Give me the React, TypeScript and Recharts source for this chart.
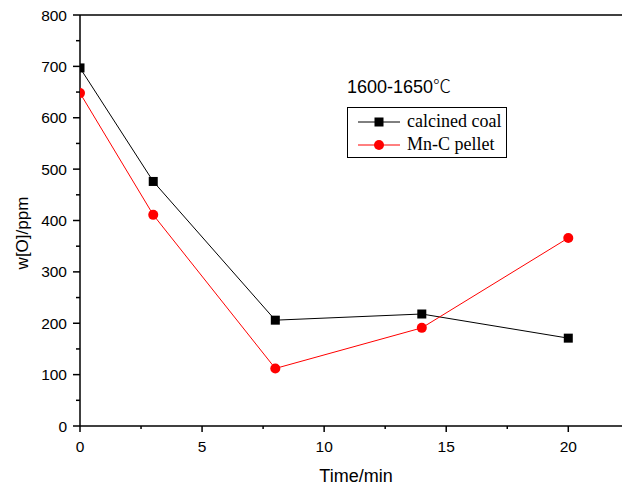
import React from 'react';
import { LineChart, Line, XAxis, YAxis, ReferenceLine } from 'recharts';

const times = [0, 3, 8, 14, 20];
const calcinedCoal = [697, 476, 206, 218, 171];
const mnCPellet = [648, 411, 112, 191, 366];
const xTicks = [0, 2.5, 5, 7.5, 10, 12.5, 15, 17.5, 20];
const yTicks = [0, 50, 100, 150, 200, 250, 300, 350, 400, 450, 500, 550, 600, 650, 700, 750, 800];

const data = times.map((t, i) => ({ t, coal: calcinedCoal[i], pellet: mnCPellet[i] }));

const sans = '"Liberation Sans", Arial, sans-serif';
const serif = '"Liberation Serif", "Times New Roman", serif';

const XTick = (props: any) => {
  const { x, y, payload } = props;
  const major = payload.value % 5 === 0;
  return (
    <g>
      <line x1={x} x2={x} y1={y} y2={y + (major ? 6 : 3)} stroke="#000" strokeWidth={1.5} />
      {major && (
        <text x={x} y={y + 26} textAnchor="middle" fontFamily={sans} fontSize={15.5} fill="#000">
          {payload.value}
        </text>
      )}
    </g>
  );
};

const YTick = (props: any) => {
  const { x, y, payload } = props;
  const major = payload.value % 100 === 0;
  return (
    <g>
      <line x1={x} x2={x - (major ? 7 : 4)} y1={y} y2={y} stroke="#000" strokeWidth={1.5} />
      {major && (
        <text x={x - 13} y={y + 5.5} textAnchor="end" fontFamily={sans} fontSize={15.5} fill="#000">
          {payload.value}
        </text>
      )}
    </g>
  );
};

const SquareDot = (props: any) => {
  const { cx, cy, index } = props;
  return <rect key={`sq-${index}`} x={cx - 4.5} y={cy - 4.5} width={9} height={9} fill="#000" />;
};

const CircleDot = (props: any) => {
  const { cx, cy, index } = props;
  return <circle key={`ci-${index}`} cx={cx} cy={cy} r={5} fill="#ff0000" />;
};

const XTitle = () => (
  <text x={356} y={482} textAnchor="middle" fontFamily={sans} fontSize={18} fill="#000">
    Time/min
  </text>
);

const YTitle = () => (
  <text
    x={28}
    y={233}
    transform="rotate(-90, 28, 233)"
    textAnchor="middle"
    fontFamily={sans}
    fontSize={17}
    fill="#000"
  >
    w[O]/ppm
  </text>
);

const legendItems = [
  { name: 'calcined coal', color: '#000', square: true },
  { name: 'Mn-C pellet', color: '#ff0000', square: false },
];

const LegendBox = () => (
  <div
    style={{
      position: 'absolute',
      left: 347,
      top: 107,
      border: '1px solid #000',
      width: 160,
      height: 51,
      boxSizing: 'border-box',
      background: '#fff',
      fontFamily: serif,
      fontSize: 18,
      padding: '2px 0 0 10px',
      whiteSpace: 'nowrap',
    }}
  >
    {legendItems.map((e) => (
      <div key={e.name} style={{ display: 'flex', alignItems: 'center', height: 23 }}>
        <svg width={44} height={12} style={{ marginRight: 5, flexShrink: 0 }}>
          <line x1={0} x2={42} y1={6} y2={6} stroke={e.color} strokeWidth={1} />
          {e.square ? (
            <rect x={16.5} y={1.5} width={9} height={9} fill={e.color} />
          ) : (
            <circle cx={21} cy={6} r={5} fill={e.color} />
          )}
        </svg>
        <span>{e.name}</span>
      </div>
    ))}
  </div>
);

export default function App() {
  return (
    <div style={{ position: 'absolute', left: 0, top: 0, width: 623, height: 490, background: '#fff' }}>
      <LineChart width={623} height={490} data={data} margin={{ top: 15, right: 1, left: 0, bottom: 0 }}>
        <XAxis
          dataKey="t"
          type="number"
          domain={[0, 22.2]}
          ticks={xTicks}
          tick={<XTick />}
          tickSize={0}
          tickMargin={0}
          tickLine={false}
          axisLine={{ stroke: '#000', strokeWidth: 1.5 }}
          height={64}
          allowDataOverflow
          label={<XTitle />}
        />
        <YAxis
          type="number"
          domain={[0, 800]}
          ticks={yTicks}
          tick={<YTick />}
          tickSize={0}
          tickMargin={0}
          tickLine={false}
          axisLine={{ stroke: '#000', strokeWidth: 1.5 }}
          width={80}
          label={<YTitle />}
        />
        <ReferenceLine y={800} stroke="#000" strokeWidth={1.5} />
        <Line
          dataKey="coal"
          name="calcined coal"
          type="linear"
          stroke="#000"
          strokeWidth={1}
          dot={<SquareDot />}
          isAnimationActive={false}
        />
        <Line
          dataKey="pellet"
          name="Mn-C pellet"
          type="linear"
          stroke="#ff0000"
          strokeWidth={1}
          dot={<CircleDot />}
          isAnimationActive={false}
        />
      </LineChart>
      <LegendBox />
      <div style={{ position: 'absolute', left: 347, top: 72, fontFamily: sans, fontSize: 18, color: '#000', whiteSpace: 'nowrap' }}>
        1600-1650<span style={{ fontFamily: '"Noto Sans CJK SC", sans-serif', fontWeight: 300 }}>℃</span>
      </div>
    </div>
  );
}
